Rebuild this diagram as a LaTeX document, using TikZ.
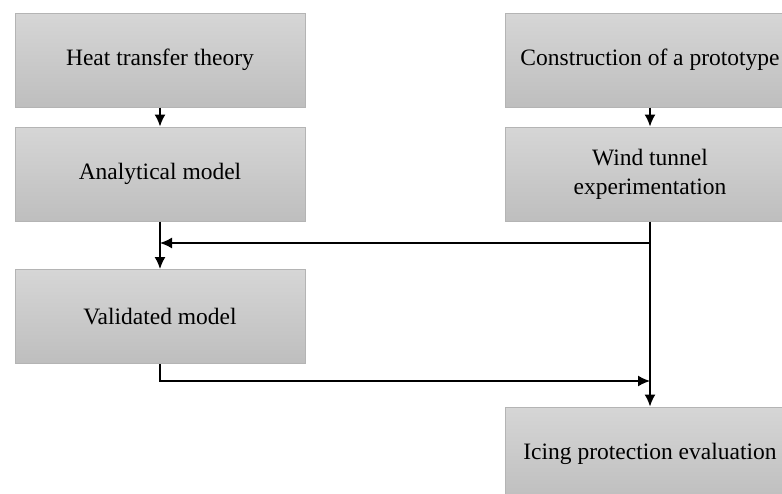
\documentclass[tikz,border=0pt]{standalone}
\usepackage{fontspec}
\setmainfont{Liberation Serif}
\usetikzlibrary{arrows.meta}

\definecolor{boxtop}{HTML}{D6D6D6}
\definecolor{boxbot}{HTML}{BEBEBE}
\definecolor{boxline}{HTML}{B4B4B4}

\begin{document}
\begin{tikzpicture}[x=1pt,y=-1pt,
	stage/.style={rectangle,draw=boxline,line width=1pt,top color=boxtop,bottom color=boxbot,
		minimum width=290pt,minimum height=94pt,inner sep=0pt,align=center,
		font=\fontsize{23.5}{29}\selectfont},
	flow/.style={line width=1.5pt,-{Latex[length=12pt,width=11pt]}}]
		\useasboundingbox (0,0) rectangle (782,493);
		\draw (160,60) node [stage] (heat) {Heat transfer theory};
		\draw (160,174) node [stage] (analytical) {Analytical model};
		\draw (160,316.5) node [stage] (validated) {Validated model};
		\draw (650,60) node [stage] (proto) {Construction of a prototype};
		\draw (650,174) node [stage] (wind) {Wind tunnel\\experimentation};
		\draw (650,454) node [stage] (icing) {Icing protection evaluation};
		\coordinate (split) at (650,243);
		\coordinate (join) at (650,381);
		\draw[flow] (heat) -- (analytical);
		\draw[flow] (proto) -- (wind);
		\draw[flow] (analytical) -- (validated);
		\draw[flow] (wind) -- (icing);
		\draw[flow] (split) -- (analytical.south |- split);
		\draw[flow] (validated.south) |- (join);
	\end{tikzpicture}
\end{document}
